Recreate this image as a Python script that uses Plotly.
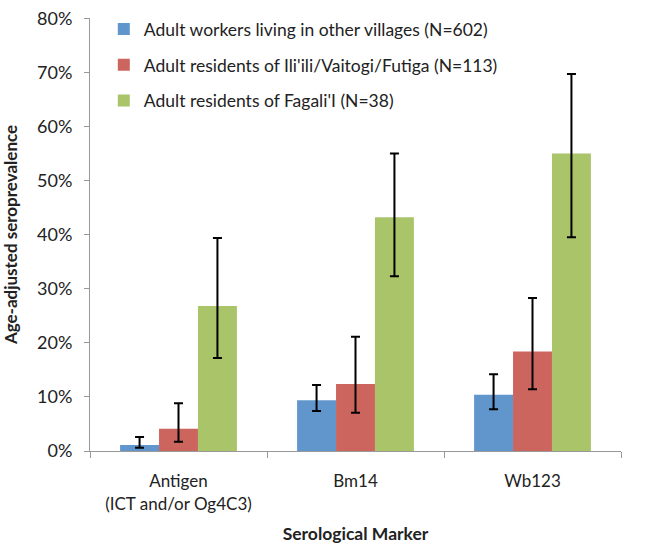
import plotly.graph_objects as go

categories = ["Antigen<br>(ICT and/or Og4C3)", "Bm14", "Wb123"]
series_names = [
    "Adult workers living in other villages (N=602)",
    "Adult residents of Ili'ili/Vaitogi/Futiga (N=113)",
    "Adult residents of Fagali'I (N=38)",
]
values_workers = [0.011, 0.094, 0.104]
values_ilili = [0.041, 0.124, 0.184]
values_fagalii = [0.268, 0.432, 0.550]
upper_workers = [0.026, 0.122, 0.142]
upper_ilili = [0.0885, 0.211, 0.283]
upper_fagalii = [0.394, 0.550, 0.697]
lower_workers = [0.006, 0.074, 0.077]
lower_ilili = [0.017, 0.0705, 0.114]
lower_fagalii = [0.172, 0.323, 0.395]
y_ticks = [0, 0.1, 0.2, 0.3, 0.4, 0.5, 0.6, 0.7, 0.8]
y_tick_labels = ["0%", "10%", "20%", "30%", "40%", "50%", "60%", "70%", "80%"]

colors = ["#6096CB", "#CD655F", "#AAC46A"]

fig = go.Figure()
for i, (name, vals, up, lo) in enumerate(zip(
        series_names,
        [values_workers, values_ilili, values_fagalii],
        [upper_workers, upper_ilili, upper_fagalii],
        [lower_workers, lower_ilili, lower_fagalii])):
    fig.add_trace(go.Bar(
        x=categories, y=vals, name=name, legendgroup=f"g{i}",
        marker=dict(color=colors[i], line=dict(width=0)),
        error_y=dict(type="data", symmetric=False,
                     array=[u - v for u, v in zip(up, vals)],
                     arrayminus=[v - l for v, l in zip(vals, lo)],
                     color="black", thickness=2, width=4.5),
    ))

font_family = "Lato, 'Open Sans', sans-serif"
fig.update_layout(
    width=670, height=544,
    margin=dict(l=90, r=49, t=11, b=93),
    plot_bgcolor="white", paper_bgcolor="white",
    barmode="group", bargap=0.34, bargroupgap=0,
    font=dict(family=font_family, size=17, color="#222"),
    showlegend=True,
    legend=dict(x=0.026, y=1.016, xanchor="left", yanchor="top",
                bgcolor="rgba(255,255,255,0)", font=dict(size=17.5),
                tracegroupgap=10, itemwidth=30),
    xaxis=dict(
        type="category", showline=True, linecolor="#999", linewidth=1,
        ticks="outside", tickson="boundaries", ticklen=6, tickcolor="#999",
        title=dict(text="<b>Serological Marker</b>", font=dict(size=17.5), standoff=15),
        tickfont=dict(size=17), automargin=False, ticklabelstandoff=15,
    ),
    yaxis=dict(
        range=[0, 0.8005], tickvals=y_ticks, ticktext=y_tick_labels,
        showline=True, linecolor="#999", linewidth=1,
        ticks="outside", ticklen=5, tickcolor="#999", showgrid=False,
        zeroline=False, automargin=False, ticklabeloverflow="allow",
        title=dict(text="<b>Age-adjusted seroprevalence</b>", font=dict(size=17), standoff=29),
        tickfont=dict(size=18), ticklabelstandoff=8,
    ),
)

fig.write_html("out.html", config={"displayModeBar": False},
               post_script="document.body.style.margin='0';")
